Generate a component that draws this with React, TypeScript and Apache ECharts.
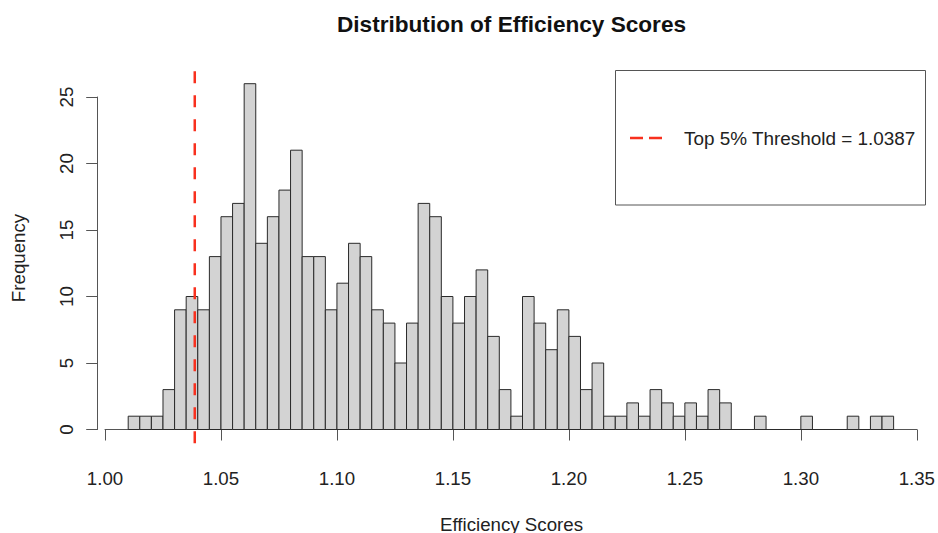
import React, { useEffect, useRef } from "react";
import * as echarts from "echarts";

// Histogram bins (width 0.005) starting at 1.010
const binStart = 1.01;
const binWidth = 0.005;
const counts = [
  1, 1, 1, 3, 9, 10, 9, 13, 16, 17,
  26, 14, 16, 18, 21, 13, 13, 9, 11, 14,
  13, 9, 8, 5, 8, 17, 16, 10, 8, 10,
  12, 7, 3, 1, 10, 8, 6, 9, 7, 3,
  5, 1, 1, 2, 1, 3, 2, 1, 2, 1,
  3, 2, 0, 0, 1, 0, 0, 0, 1, 0,
  0, 0, 1, 0, 1, 1,
];
const xMin = 1.0;
const xMax = 1.35;
const xStep = 0.05;
const yMin = 0;
const yMax = 25;
const yStep = 5;
const threshold = 1.0387;
const plotYRange = [-1.04, 27.04];

const titleText = "Distribution of Efficiency Scores";
const xName = "Efficiency Scores";
const yName = "Frequency";
const legendText = "Top 5% Threshold = 1.0387";

const FONT = "'Liberation Sans', Arial, Helvetica, sans-serif";
const RED = "#F8301E";

export default function App() {
  const ref = useRef<HTMLDivElement>(null);
  useEffect(() => {
    if (!ref.current) return;
    const chart = echarts.init(ref.current, null, { renderer: "svg" });
    const barData = counts.map((c, i) => [
      +(binStart + i * binWidth).toFixed(3),
      +(binStart + (i + 1) * binWidth).toFixed(3),
      c,
    ]);
    chart.setOption({
      animation: false,
      backgroundColor: "#ffffff",
      textStyle: { fontFamily: FONT },
      grid: { left: 105, right: 20, top: 97, bottom: 103.5, containLabel: false },
      xAxis: {
        type: "value",
        min: xMin,
        max: xMax,
        interval: xStep,
        offset: 15,
        splitLine: { show: false },
        axisLine: { show: true, lineStyle: { color: "#555", width: 1 } },
        axisTick: { show: true, length: 11, lineStyle: { color: "#555", width: 1 } },
        axisLabel: {
          margin: 24.5,
          fontSize: 18.7,
          color: "#222",
          fontFamily: FONT,
          formatter: (v: number) => v.toFixed(2),
        },
      },
      yAxis: {
        type: "value",
        min: yMin,
        max: yMax,
        interval: yStep,
        offset: 7.3,
        splitLine: { show: false },
        axisLine: { show: true, lineStyle: { color: "#555", width: 1 } },
        axisTick: { show: true, length: 11.5, lineStyle: { color: "#555", width: 1 } },
        axisLabel: {
          margin: 22,
          rotate: 90,
          fontSize: 18.7,
          color: "#222",
          fontFamily: FONT,
        },
      },
      series: [
        {
          type: "custom",
          clip: false,
          data: barData,
          encode: { x: [0, 1], y: 2 },
          renderItem: (params: any, api: any) => {
            const p0 = api.coord([api.value(0), api.value(2)]);
            const p1 = api.coord([api.value(1), 0]);
            return {
              type: "rect",
              shape: { x: p0[0], y: p0[1], width: p1[0] - p0[0], height: p1[1] - p0[1] },
              style: { fill: "#D3D3D3", stroke: "#2a2a2a", lineWidth: 1 },
            };
          },
        },
        {
          type: "custom",
          clip: false,
          z: 5,
          data: [[threshold, plotYRange[0], plotYRange[1]]],
          encode: { x: 0, y: [1, 2] },
          renderItem: (params: any, api: any) => {
            const a = api.coord([api.value(0), api.value(1)]);
            const b = api.coord([api.value(0), api.value(2)]);
            return {
              type: "line",
              shape: { x1: a[0], y1: a[1], x2: b[0], y2: b[1] },
              style: { stroke: RED, lineWidth: 2.5, lineDash: [12, 12] },
            };
          },
        },
      ],
      graphic: [
        {
          type: "text",
          x: 511.5,
          y: 24,
          style: {
            text: titleText,
            fontSize: 22.6,
            fontWeight: "bold",
            fontFamily: FONT,
            fill: "#111",
            align: "center",
            verticalAlign: "middle",
          },
        },
        {
          type: "text",
          x: 511.5,
          y: 524,
          style: {
            text: xName,
            fontSize: 18.7,
            fontFamily: FONT,
            fill: "#222",
            align: "center",
            verticalAlign: "middle",
          },
        },
        {
          type: "text",
          x: 18.5,
          y: 258,
          rotation: Math.PI / 2,
          style: {
            text: yName,
            fontSize: 18.7,
            fontFamily: FONT,
            fill: "#222",
            align: "center",
            verticalAlign: "middle",
          },
        },
        {
          type: "rect",
          shape: { x: 615.5, y: 70.5, width: 310, height: 134.5 },
          style: { fill: "#fff", stroke: "#555", lineWidth: 1 },
        },
        {
          type: "line",
          shape: { x1: 630, y1: 138, x2: 662, y2: 138 },
          style: { stroke: RED, lineWidth: 2.5, lineDash: [13, 6] },
        },
        {
          type: "text",
          x: 684,
          y: 138.5,
          style: {
            text: legendText,
            fontSize: 18.9,
            fontFamily: FONT,
            fill: "#222",
            align: "left",
            verticalAlign: "middle",
          },
        },
      ],
    });
    return () => chart.dispose();
  }, []);
  return (
    <div
      ref={ref}
      style={{ position: "fixed", left: 0, top: 0, width: 938, height: 533, background: "#fff" }}
    />
  );
}
